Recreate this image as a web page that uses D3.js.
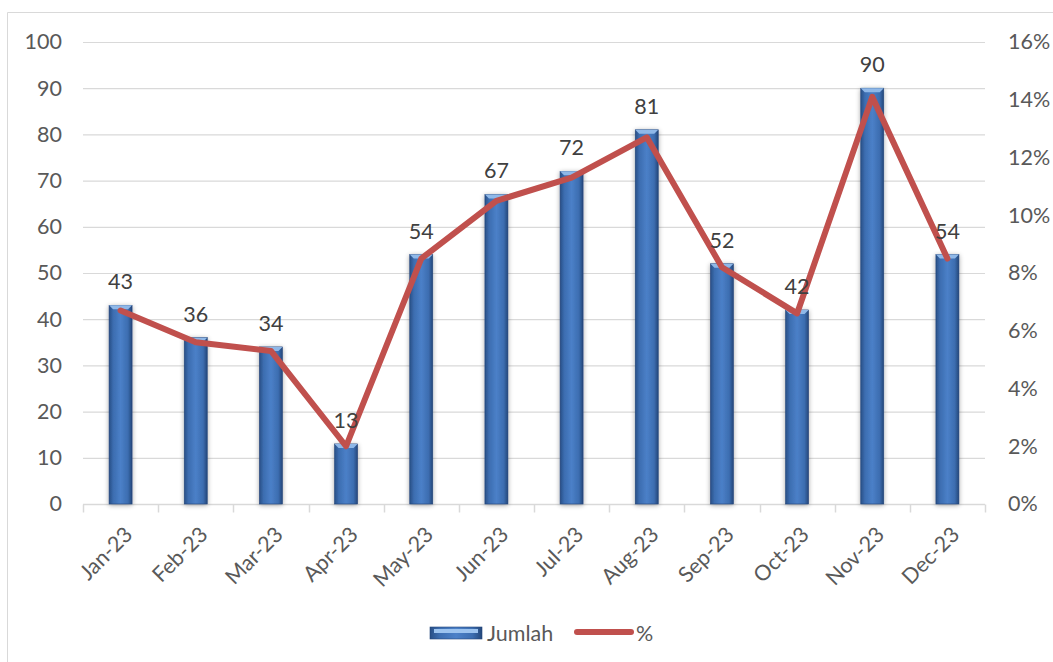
<!DOCTYPE html>
<html>
<head>
<meta charset="utf-8">
<script src="https://cdn.jsdelivr.net/npm/d3@7"></script>
<style>
  body { margin: 0; background: #fff; }
  text { font-family: Lato, "Open Sans", sans-serif; fill: #595959; }
</style>
</head>
<body>
<div id="chart"></div>
<script>
var months = ["Jan-23", "Feb-23", "Mar-23", "Apr-23", "May-23", "Jun-23",
              "Jul-23", "Aug-23", "Sep-23", "Oct-23", "Nov-23", "Dec-23"];
var jumlah = [43, 36, 34, 13, 54, 67, 72, 81, 52, 42, 90, 54];
var persen = [6.7, 5.6, 5.3, 2.0, 8.5, 10.5, 11.3, 12.7, 8.2, 6.6, 14.1, 8.5];
var leftTicks = [0, 10, 20, 30, 40, 50, 60, 70, 80, 90, 100];
var rightTicks = [0, 2, 4, 6, 8, 10, 12, 14, 16];

var width = 1053, height = 662;
var margin = {top: 42, right: 68, bottom: 158, left: 83};
var innerWidth = width - margin.left - margin.right,
    innerHeight = height - margin.top - margin.bottom;
var fontSize = "21.5px";

var svg = d3.select("#chart").append("svg")
  .attr("width", width).attr("height", height);

// outer frame (top and left edges visible)
svg.append("path")
  .attr("d", "M7.5,662V12.5H1053")
  .attr("fill", "none").attr("stroke", "#d9d9d9");

var defs = svg.append("defs");
var grad = defs.append("linearGradient").attr("id", "barGrad")
  .attr("x1", "0").attr("x2", "1").attr("y1", "0").attr("y2", "0");
grad.append("stop").attr("offset", "0%").attr("stop-color", "#284f86");
grad.append("stop").attr("offset", "18%").attr("stop-color", "#3c6db0");
grad.append("stop").attr("offset", "50%").attr("stop-color", "#4b80c8");
grad.append("stop").attr("offset", "82%").attr("stop-color", "#3c6db0");
grad.append("stop").attr("offset", "100%").attr("stop-color", "#24477a");

var shadow = defs.append("filter").attr("id", "shadow")
  .attr("x", "-50%").attr("y", "-10%").attr("width", "200%").attr("height", "120%");
shadow.append("feGaussianBlur").attr("in", "SourceAlpha").attr("stdDeviation", 2.5).attr("result", "b");
shadow.append("feOffset").attr("in", "b").attr("dx", 0).attr("dy", 1).attr("result", "o");
shadow.append("feComponentTransfer").append("feFuncA").attr("type", "linear").attr("slope", 0.35);
var merge = shadow.append("feMerge");
merge.append("feMergeNode");
merge.append("feMergeNode").attr("in", "SourceGraphic");

var g = svg.append("g")
  .attr("transform", "translate(" + margin.left + "," + margin.top + ")");

var xScale = d3.scaleBand().domain(months).range([0, innerWidth]);
var yScale = d3.scaleLinear().domain([0, 100]).range([innerHeight, 0]);
var y2Scale = d3.scaleLinear().domain([0, 16]).range([innerHeight, 0]);

// gridlines
g.selectAll(".grid").data(leftTicks.slice(1))
  .enter().append("line")
  .attr("x1", 0).attr("x2", innerWidth)
  .attr("y1", function(d) { return yScale(d) + 0.5; })
  .attr("y2", function(d) { return yScale(d) + 0.5; })
  .attr("stroke", "#d9d9d9").attr("stroke-width", 1.2);

// left axis
var yAxis = g.append("g").attr("class", "y axis")
  .call(d3.axisLeft(yScale).tickValues(leftTicks).tickSize(0).tickPadding(21));
yAxis.select(".domain").remove();
yAxis.selectAll("text").style("font-size", fontSize).style("fill", "#595959");

// right axis
var y2Axis = g.append("g").attr("class", "y2 axis")
  .attr("transform", "translate(" + innerWidth + ",0)")
  .call(d3.axisRight(y2Scale).tickValues(rightTicks).tickSize(0).tickPadding(23)
    .tickFormat(function(d) { return d + "%"; }));
y2Axis.select(".domain").remove();
y2Axis.selectAll("text").style("font-size", fontSize).style("fill", "#595959");

// x axis
var xAxis = g.append("g").attr("class", "x axis")
  .attr("transform", "translate(0," + (innerHeight + 0.5) + ")");
xAxis.append("line").attr("x1", 0).attr("x2", innerWidth)
  .attr("stroke", "#d9d9d9").attr("stroke-width", 1.5);
xAxis.selectAll(".tk").data(d3.range(months.length + 1))
  .enter().append("line")
  .attr("x1", function(i) { return Math.round(i * xScale.step()) + 0.5; })
  .attr("x2", function(i) { return Math.round(i * xScale.step()) + 0.5; })
  .attr("y1", 0).attr("y2", 8)
  .attr("stroke", "#d9d9d9").attr("stroke-width", 1.5);
xAxis.selectAll(".lbl").data(months)
  .enter().append("text")
  .attr("transform", function(d) {
    return "translate(" + (xScale(d) + xScale.bandwidth() / 2 + 8) + ",26) rotate(-45)";
  })
  .attr("text-anchor", "end")
  .attr("dy", "0.35em")
  .style("font-size", fontSize)
  .text(function(d) { return d; });

// bars
var bw = 23;
var bars = g.selectAll(".bar").data(months)
  .enter().append("g").attr("class", "bar");
bars.append("rect")
  .attr("x", function(d) { return xScale(d) + xScale.bandwidth() / 2 - bw / 2; })
  .attr("y", function(d, i) { return yScale(jumlah[i]); })
  .attr("width", bw)
  .attr("height", function(d, i) { return innerHeight - yScale(jumlah[i]); })
  .attr("fill", "url(#barGrad)")
  .attr("stroke", "#23457a").attr("stroke-width", 0.6)
  .attr("filter", "url(#shadow)");
// top bevel
bars.append("path")
  .attr("d", function(d, i) {
    var x0 = xScale(d) + xScale.bandwidth() / 2 - bw / 2, y0 = yScale(jumlah[i]);
    return "M" + x0 + "," + y0 + "L" + (x0 + bw) + "," + y0 +
      "L" + (x0 + bw - 4) + "," + (y0 + 4) + "L" + (x0 + 4) + "," + (y0 + 4) + "Z";
  })
  .attr("fill", "#8fb8e8");

// line
var line = d3.line()
  .x(function(d, i) { return xScale(months[i]) + xScale.bandwidth() / 2; })
  .y(function(d) { return y2Scale(d); });
g.append("path").datum(persen)
  .attr("d", line)
  .attr("fill", "none")
  .attr("stroke", "#c0504d")
  .attr("stroke-width", 6)
  .attr("stroke-linejoin", "round")
  .attr("stroke-linecap", "round");

// data labels
g.selectAll(".val").data(jumlah)
  .enter().append("text")
  .attr("x", function(d, i) { return xScale(months[i]) + xScale.bandwidth() / 2; })
  .attr("y", function(d) { return yScale(d) - 16; })
  .attr("text-anchor", "middle")
  .style("font-size", fontSize)
  .style("fill", "#404040")
  .text(function(d) { return d; });

// legend
var legend = svg.append("g").attr("transform", "translate(430,627)");
legend.append("rect").attr("x", 0).attr("y", 0).attr("width", 52).attr("height", 12)
  .attr("fill", "url(#barGrad)").attr("stroke", "#23457a").attr("stroke-width", 0.6);
legend.append("rect").attr("x", 4).attr("y", 2).attr("width", 44).attr("height", 4)
  .attr("fill", "#9cc3ef");
legend.append("text").attr("x", 57).attr("y", 6).attr("dy", "0.35em")
  .style("font-size", fontSize).text("Jumlah");
legend.append("line").attr("x1", 147).attr("x2", 201).attr("y1", 5).attr("y2", 5)
  .attr("stroke", "#c0504d").attr("stroke-width", 6).attr("stroke-linecap", "round");
legend.append("text").attr("x", 206).attr("y", 6).attr("dy", "0.35em")
  .style("font-size", fontSize).text("%");
</script>
</body>
</html>
